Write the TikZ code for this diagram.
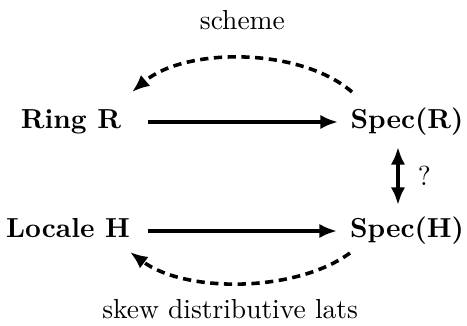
\documentclass[tikz,border=0pt]{standalone}
\usetikzlibrary{arrows.meta}
\begin{document}
\begin{tikzpicture}[x=0.3636pt,y=-0.3636pt,
  obj/.style={font=\bfseries, anchor=base, inner sep=0pt},
  lbl/.style={font=\normalsize},
  maparrow/.style={line width=1.45pt, -{Latex[length=6.4pt,width=5.2pt]}},
  bothways/.style={line width=1.45pt, {Latex[length=6.4pt,width=5.2pt]}-{Latex[length=6.4pt,width=5.2pt]}},
  backarrow/.style={line width=1.3pt, dash pattern=on 3pt off 2pt, -{Latex[length=6.4pt,width=5.2pt]}}]
\useasboundingbox (0,0) rectangle (467,326);

% objects
\node[obj] (ring) at (71,129) {Ring R};
\node[obj] (sr)   at (407,129) {Spec(R)};
\node[obj] (loc)  at (68,238) {Locale H};
\node[obj] (sh)   at (407,238) {Spec(H)};

% solid maps
\draw[maparrow] ([shift={(77,-7)}]ring.base) -- ([shift={(-69,-7)}]sr.base);
\draw[maparrow] ([shift={(80,-7)}]loc.base) -- ([shift={(-70,-7)}]sh.base);
\draw[bothways] ([shift={(-9,18)}]sr.base) -- ([shift={(-9,-33)}]sh.base)
  node[midway, anchor=west, inner sep=0pt, xshift=6.5pt, font=\normalsize] {?};

% dashed return maps
\draw[backarrow] ([shift={(-55,-37)}]sr.base) .. controls (300,47) and (185,47) .. ([shift={(61,-37)}]ring.base)
  node[pos=.5, yshift=13.8pt, lbl] {scheme};
\draw[backarrow] ([shift={(-57,15)}]sh.base) .. controls (295,293) and (185,293) .. ([shift={(62,14)}]loc.base)
  node[pos=.5, yshift=-9.5pt, xshift=-3.6pt, lbl] {skew distributive lats};
\end{tikzpicture}
\end{document}
